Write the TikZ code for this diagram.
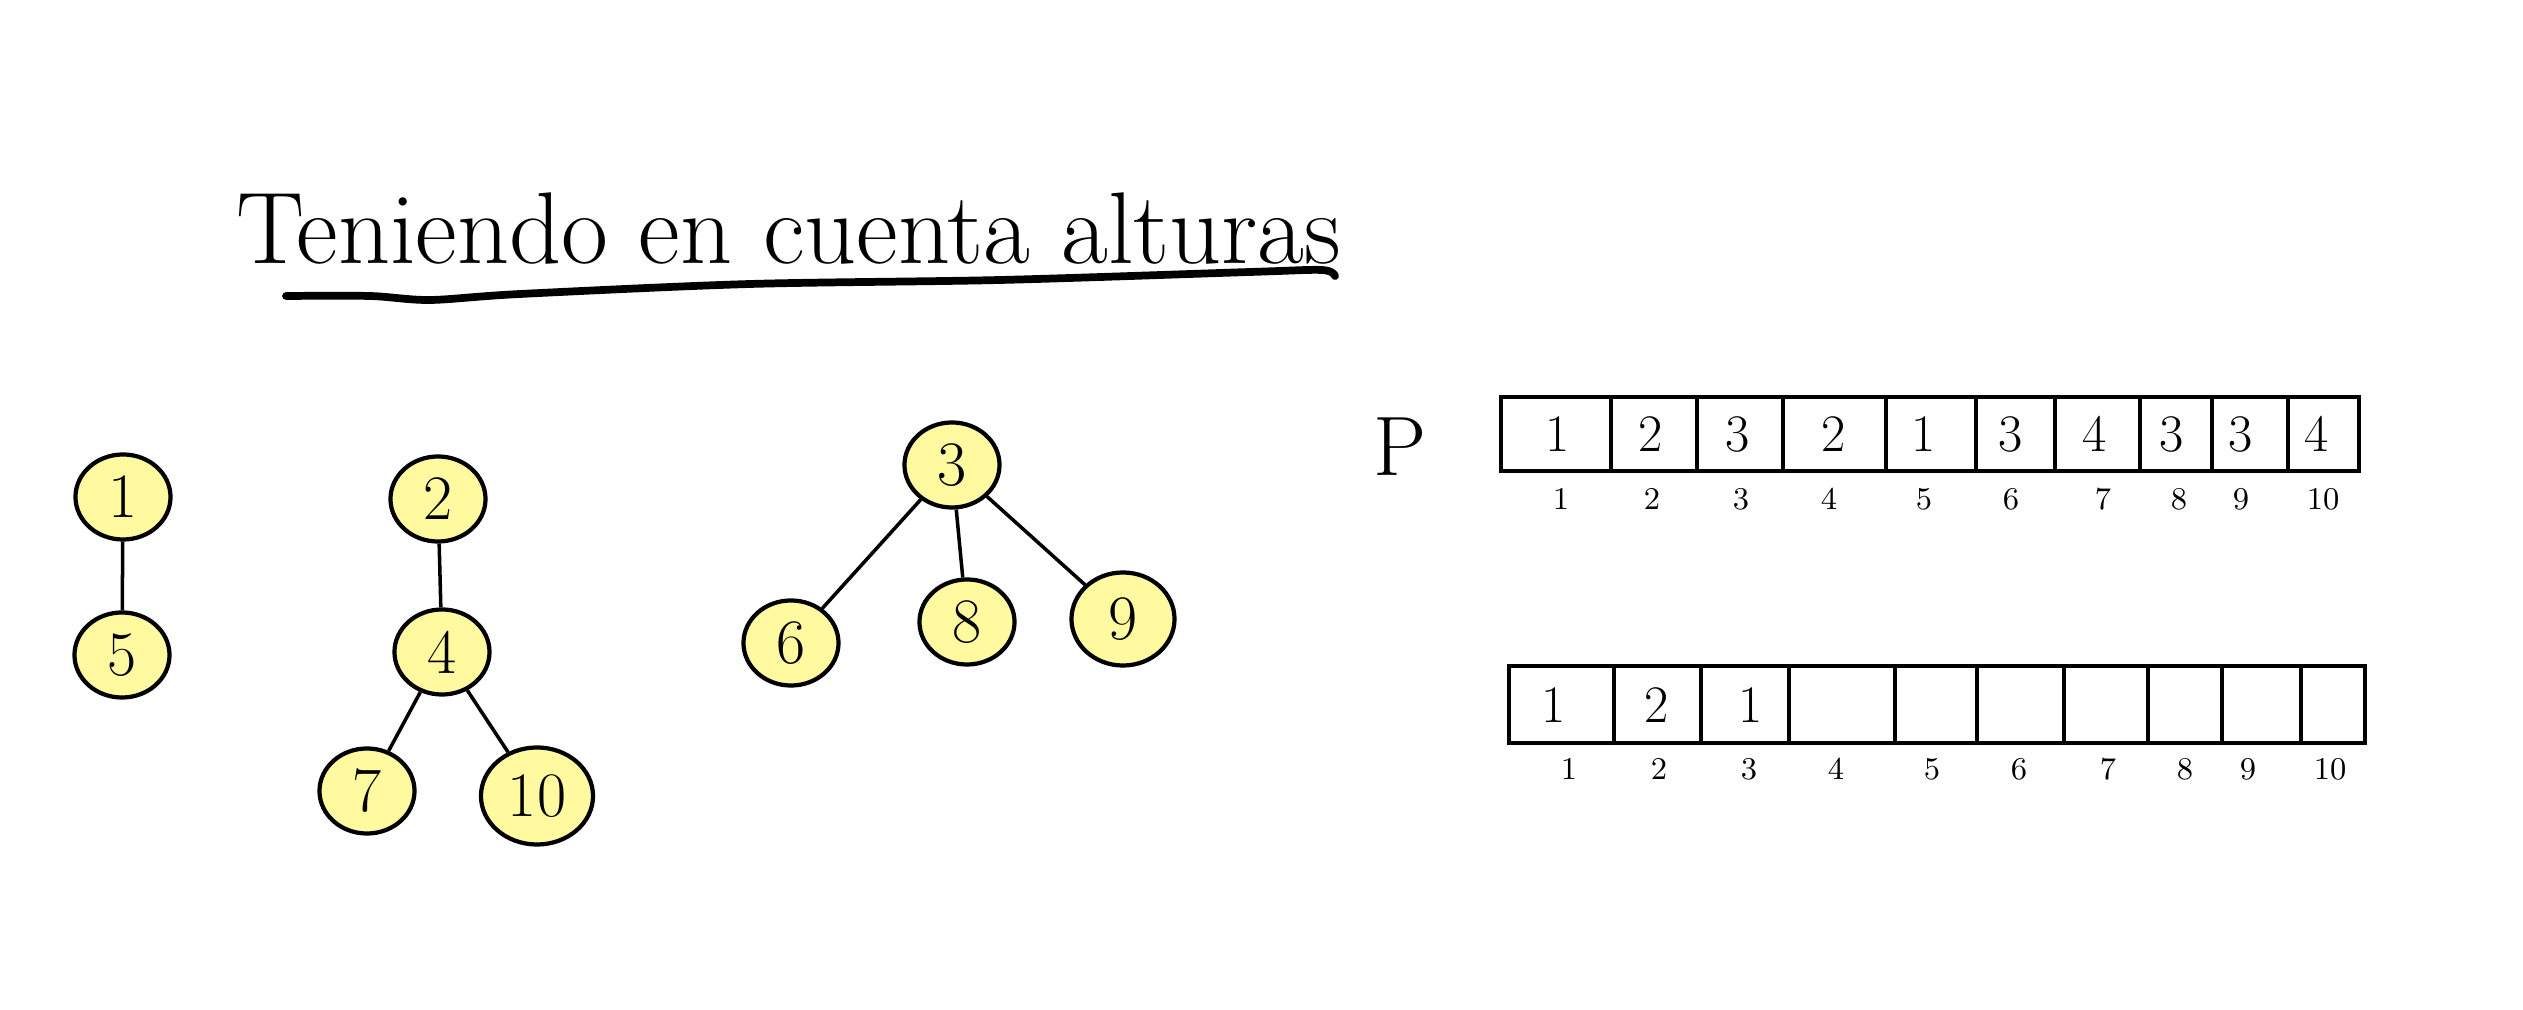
\documentclass[tikz,border=0pt]{standalone}
\usepackage{fontspec}
\usetikzlibrary{shapes.geometric}
\definecolor{amarillo}{HTML}{FFF9A0}

\begin{document}
\begin{tikzpicture}[x=0.01cm, y=-0.01cm,
        nodo/.style={draw, ellipse, fill=amarillo, line width=1.2pt, inner sep=0pt,
            minimum width=0.95cm, minimum height=0.85cm, font=\fontsize{18}{18}\selectfont},
        arista/.style={line width=1pt},
        borde/.style={line width=1.3pt},
        celda/.style={font=\fontsize{15}{15}\selectfont},
        indice/.style={font=\fontsize{9}{9}\selectfont}]
    \useasboundingbox (0,0) rectangle (2523,1010);
    % titulo
    \node[anchor=base west, font=\fontsize{29}{29}\selectfont] (titulo) at (224,264) {Teniendo en cuenta alturas};
    \draw[line width=2.2pt, line cap=round] plot[smooth] coordinates {(286,296) (370,296) (430,300) (520,294) (750,284) (1000,280) (1250,272) (1322,270) (1335,276)};
    % arboles
    \node[nodo] (n1) at (123,497) {1};
    \node[nodo] (n5) at (122,655) {5};
    \node[nodo] (n2) at (438,499) {2};
    \node[nodo] (n4) at (442,652) {4};
    \node[nodo] (n7) at (367,791) {7};
    \node[nodo, minimum width=1.12cm, minimum height=0.97cm] (n10) at (537,796) {10};
    \node[nodo] (n3) at (952,465) {3};
    \node[nodo] (n6) at (791,643) {6};
    \node[nodo] (n8) at (967,622) {8};
    \node[nodo, minimum width=1.03cm, minimum height=0.93cm] (n9) at (1123,619) {9};
    \draw[arista] (n1) -- (n5);
    \draw[arista] (n2) -- (n4);
    \draw[arista] (n4) -- (n7);
    \draw[arista] (n4) -- (n10);
    \draw[arista] (n3) -- (n6);
    \draw[arista] (n3) -- (n8);
    \draw[arista] (n3) -- (n9);
    % vector P
    \node[font=\fontsize{24}{24}\selectfont] (etiq) at (1400,447) {P};
    \draw[borde] (1501,397) rectangle (2359,471);
    \foreach \x in {1611,1697,1783,1886,1976,2055,2140,2212,2288}
        \draw[borde] (\x,397) -- (\x,471);
    \node[celda] (p1) at (1558,434) {1};
    \node[celda] (p2) at (1651,434) {2};
    \node[celda] (p3) at (1738,434) {3};
    \node[celda] (p4) at (1834,434) {2};
    \node[celda] (p5) at (1924,434) {1};
    \node[celda] (p6) at (2011,434) {3};
    \node[celda] (p7) at (2095,434) {4};
    \node[celda] (p8) at (2172,434) {3};
    \node[celda] (p9) at (2241,434) {3};
    \node[celda] (p10) at (2317,434) {4};
    \foreach \x [count=\i] in {1561,1652,1741,1829,1924,2011,2103,2179,2241,2323}
        \node[indice] (ip\i) at (\x,499) {\i};
    % vector de alturas
    \draw[borde] (1509,666) rectangle (2365,743);
    \foreach \x in {1614,1701,1789,1895,1977,2064,2148,2222,2301}
        \draw[borde] (\x,666) -- (\x,743);
    \node[celda] (h1) at (1554,705) {1};
    \node[celda] (h2) at (1657,705) {2};
    \node[celda] (h3) at (1751,705) {1};
    \foreach \x [count=\i] in {1569,1659,1749,1836,1932,2019,2108,2185,2248,2330}
        \node[indice] (ih\i) at (\x,769) {\i};
\end{tikzpicture}
\end{document}
